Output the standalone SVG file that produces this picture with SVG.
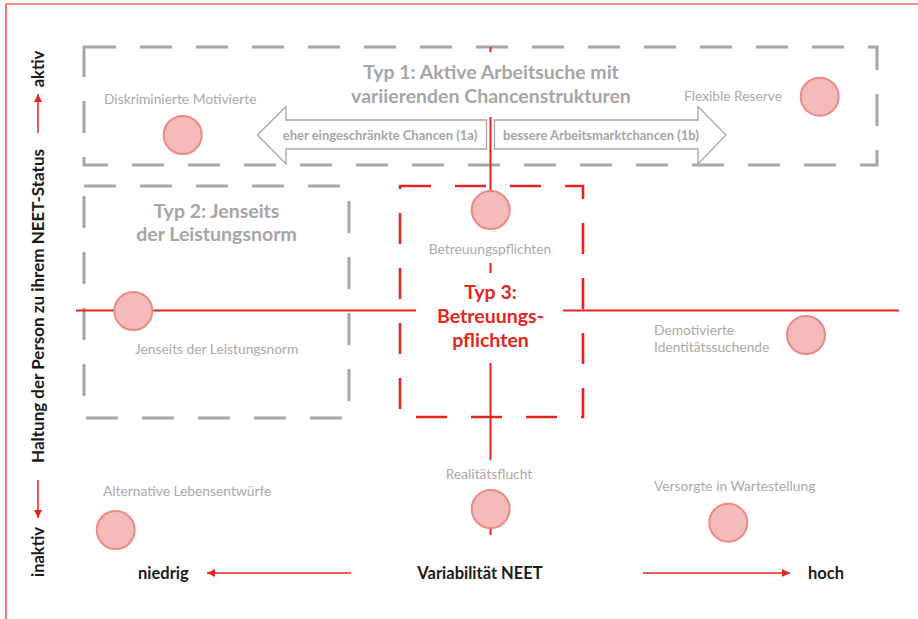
<svg xmlns="http://www.w3.org/2000/svg" width="918" height="619" viewBox="0 0 918 619">
<defs>
<style>
.frame{fill:none;stroke:#e52620;stroke-width:1.2}
.gbox{fill:none;stroke:#a6a6a6;stroke-width:3;stroke-dasharray:32 24}
.rbox{fill:none;stroke:#e52620;stroke-width:2.6;stroke-dasharray:31 24}
.rline{stroke:#e52620;stroke-width:2;fill:none}
.dot{fill:#f5baba;stroke:#ef8a82;stroke-width:2}
.lbl{font-family:Lato,"Liberation Sans",sans-serif;font-size:13.8px;fill:#aaaaaa}
.ttl{font-family:Lato,"Liberation Sans",sans-serif;font-size:19.5px;font-weight:700;fill:#a6a6a6;text-anchor:middle}
.rttl{font-family:Lato,"Liberation Sans",sans-serif;font-size:19.5px;font-weight:700;fill:#e52620;text-anchor:middle}
.arr{fill:#ffffff;stroke:#a6a6a6;stroke-width:1.3}
.atx{font-family:Lato,"Liberation Sans",sans-serif;font-size:13px;font-weight:700;fill:#a6a6a6;text-anchor:middle}
.ax{font-family:Lato,"Liberation Sans",sans-serif;font-size:16.5px;font-weight:700;fill:#1a1a1a}
.axl{stroke:#e52620;stroke-width:1.5;fill:none}
</style>
<marker id="ah" viewBox="0 0 10 10" refX="10" refY="5" markerWidth="8" markerHeight="8" markerUnits="userSpaceOnUse" orient="auto">
<path d="M0,0 L10,5 L0,10 z" fill="#e52620"/>
</marker>
</defs>

<path class="frame" d="M6,619 V4 H918"/>

<g id="type1-box"><rect class="gbox" x="84" y="47" width="793" height="118"/></g>
<g id="type2-box"><rect class="gbox" x="84" y="186" width="265" height="232"/></g>
<g id="type3-box"><rect class="rbox" x="400" y="186" width="183" height="231"/></g>

<g id="connectors">
<path class="rline" d="M490.5,47 V52 M490.5,117 V210 M490.5,263 V273 M490.5,363 V460 M490.5,509 V535"/>
<path class="rline" d="M76,310.5 H416 M563,310.5 H899"/>
<line class="axl" x1="38" y1="133" x2="38" y2="94" marker-end="url(#ah)"/>
<line class="axl" x1="38" y1="480" x2="38" y2="518" marker-end="url(#ah)"/>
<line class="axl" x1="351" y1="573" x2="207" y2="573" marker-end="url(#ah)"/>
<line class="axl" x1="643" y1="573" x2="790" y2="573" marker-end="url(#ah)"/>
</g>

<g id="type1-title">
<text class="ttl" x="491" y="79">Typ 1: Aktive Arbeitsuche mit</text>
<text class="ttl" x="491" y="103">variierenden Chancenstrukturen</text>
</g>
<g id="type2-title">
<text class="ttl" x="216.5" y="218">Typ 2: Jenseits</text>
<text class="ttl" x="216.5" y="241">der Leistungsnorm</text>
</g>
<g id="type3-title">
<text class="rttl" x="490.5" y="299">Typ 3:</text>
<text class="rttl" x="490.5" y="323">Betreuungs-</text>
<text class="rttl" x="490.5" y="347">pflichten</text>
</g>

<g id="arrow-1a">
<path class="arr" d="M257.5,135 L286,106.5 V120 H486.5 V149 H286 V164 Z"/>
<text class="atx" x="380" y="139.5">eher eingeschränkte Chancen (1a)</text>
</g>
<g id="arrow-1b">
<path class="arr" d="M494.5,120 H698 V106.5 L726,135 L698,164 V149 H494.5 Z"/>
<text class="atx" x="601" y="139.5">bessere Arbeitsmarktchancen (1b)</text>
</g>

<g id="n-diskriminierte">
<circle class="dot" cx="182.7" cy="135" r="19"/>
<text class="lbl" x="104" y="104">Diskriminierte Motivierte</text>
</g>
<g id="n-flexible">
<circle class="dot" cx="819.7" cy="96.7" r="19"/>
<text class="lbl" x="684" y="101">Flexible Reserve</text>
</g>
<g id="n-betreuung">
<circle class="dot" cx="490.7" cy="210" r="19"/>
<text class="lbl" x="490" y="254" text-anchor="middle">Betreuungspflichten</text>
</g>
<g id="n-jenseits">
<circle class="dot" cx="133.3" cy="311" r="19"/>
<text class="lbl" x="135" y="354">Jenseits der Leistungsnorm</text>
</g>
<g id="n-demotivierte">
<circle class="dot" cx="806" cy="335" r="19"/>
<text class="lbl" x="654" y="335">Demotivierte</text>
<text class="lbl" x="654" y="351.5">Identitätssuchende</text>
</g>
<g id="n-alternative">
<circle class="dot" cx="115.7" cy="530" r="19"/>
<text class="lbl" x="103" y="496">Alternative Lebensentwürfe</text>
</g>
<g id="n-realitaet">
<circle class="dot" cx="490.7" cy="509" r="19"/>
<text class="lbl" x="489" y="479" text-anchor="middle">Realitätsflucht</text>
</g>
<g id="n-versorgte">
<circle class="dot" cx="728.3" cy="522.7" r="19"/>
<text class="lbl" x="654" y="491">Versorgte in Wartestellung</text>
</g>

<g id="axis-y">
<text class="ax" transform="translate(44,69) rotate(-90)" text-anchor="middle">aktiv</text>
<text class="ax" transform="translate(44,306) rotate(-90)" text-anchor="middle" style="font-size:17px">Haltung der Person zu ihrem NEET-Status</text>
<text class="ax" transform="translate(44,552) rotate(-90)" text-anchor="middle">inaktiv</text>
</g>
<g id="axis-x">
<text class="ax" x="138" y="579">niedrig</text>
<text class="ax" x="480" y="579" text-anchor="middle">Variabilität NEET</text>
<text class="ax" x="808" y="579">hoch</text>
</g>
</svg>
